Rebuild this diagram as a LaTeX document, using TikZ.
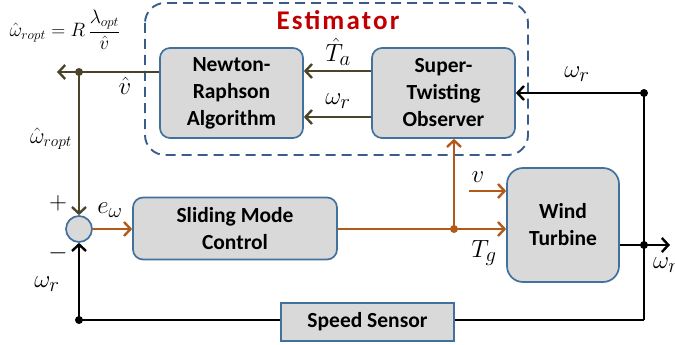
\documentclass[tikz,border=0pt]{standalone}
\usepackage{graphicx}
\usepackage{fontspec}
\setmainfont{Carlito}
\newfontfamily\estfont[LetterSpace=8]{Carlito}
\usetikzlibrary{arrows.meta,calc}
\definecolor{boxfill}{RGB}{217,217,217}
\definecolor{boxline}{RGB}{65,113,156}
\definecolor{dashline}{RGB}{56,93,138}
\definecolor{oliv}{RGB}{74,69,42}
\definecolor{orng}{RGB}{178,90,25}
\definecolor{estred}{RGB}{192,0,0}
\tikzset{
  blk/.style={draw=boxline, line width=1.7pt, fill=boxfill, rounded corners=10pt,
    align=center, font=\fontsize{21.5}{27}\selectfont\bfseries, inner sep=0pt},
  sq/.style={draw=boxline, line width=1.7pt, fill=boxfill,
    align=center, font=\fontsize{21.5}{27}\selectfont\bfseries, inner sep=0pt},
  arr/.style={line width=2.8pt, -{Straight Barb[length=6.5pt,width=14pt,line width=2.4pt]}},
  ln/.style={line width=2.8pt},
  dot/.style={circle, fill, inner sep=0pt, minimum size=8pt},
  lbl/.style={font=\fontsize{24.88}{30}\selectfont, inner sep=0pt},
}
\begin{document}
\begin{tikzpicture}[x=1pt,y=-1pt]
\useasboundingbox (0,0) rectangle (675,345);
% estimator region
\draw[dashline, line width=1.9pt, dash pattern=on 10pt off 6pt, rounded corners=20pt] (145,3) rectangle (528,155);
\node[text=estred, font=\fontsize{27}{30}\selectfont\bfseries\estfont] (est) at (338,20) {Estimator};
% blocks
\node[blk, minimum width=143pt, minimum height=90pt] (NR) at (231.5,93) {Newton-\\Raphson\\Algorithm};
\node[blk, minimum width=143pt, minimum height=90pt] (ST) at (443.5,93) {Super-\\Twisting\\Observer};
\node[blk, minimum width=204pt, minimum height=62pt] (SMC) at (235,228.5) {Sliding Mode\\Control};
\node[blk, rounded corners=16pt, minimum width=112pt, minimum height=114pt] (WT) at (563,225) {Wind\\Turbine};
\node[sq, minimum width=173pt, minimum height=38pt] (SS) at (367.5,322) {Speed Sensor};
\node[circle, draw=boxline, line width=1.7pt, fill=boxfill, minimum size=26pt, inner sep=0pt] (sum) at (79,229) {};
% coordinates
\coordinate (vout) at (57,72);
\node[dot, oliv] (vdot) at (79,72) {};
\node[dot, orng] (tgdot) at (454,229) {};
\coordinate (vin) at (469,191);
\node[dot] (wtop) at (644,93) {};
\node[dot] (wmid) at (644,245) {};
\coordinate (wbot) at (644,320);
\coordinate (wout) at (670,245);
\node[dot] (fbdot) at (79,320) {};
% olive connectors
\draw[arr, oliv] ([yshift=22pt]ST.west) -- ([yshift=22pt]NR.east);
\draw[arr, oliv] ([yshift=-24pt]ST.west) -- ([yshift=-24pt]NR.east);
\draw[arr, oliv] ([yshift=21pt]NR.west) -- (vout);
\draw[arr, oliv] (vdot.center) -- (sum.north);
% orange connectors
\draw[arr, orng] (sum.east) -- (SMC.west |- sum.east);
\draw[arr, orng] (SMC.east |- tgdot) -- (tgdot -| WT.west);
\draw[arr, orng] (tgdot.center) -- (tgdot |- ST.south);
\draw[arr, orng] (vin) -- (vin -| WT.west);
% black connectors
\draw[arr] (wtop.center) -- (ST.east |- wtop);
\draw[ln] (wtop.center) -- (wbot);
\draw[arr] (WT.east |- wmid) -- (wout);
\draw[ln] (wbot) -- (SS.east |- wbot);
\draw[ln] (SS.west |- fbdot) -- (fbdot.center);
\draw[arr] (fbdot.center) -- (sum.south);
% labels
\node[font=\fontsize{17.28}{21}\selectfont, inner sep=0pt] (formula) at (65,30) {\scalebox{1.12}{$\hat{\omega}_{ropt} = R\,{\displaystyle\frac{\lambda_{opt}}{\hat{v}}}$}};
\node[lbl] (lvhat) at (125,86) {$\hat{v}$};
\node[font=\fontsize{20.74}{26}\selectfont, inner sep=0pt] (lwropt) at (51,139) {\scalebox{1.08}{$\hat{\omega}_{ropt}$}};
\node[font=\fontsize{24.88}{26}\selectfont, inner sep=0pt] (lplus) at (58,203) {$+$};
\node[font=\fontsize{24.88}{26}\selectfont, inner sep=0pt] (lminus) at (58,253) {$-$};
\node[lbl] (lew) at (110,210) {$e_{\omega}$};
\node[lbl] (lta) at (338,52) {$\hat{T}_a$};
\node[lbl] (lwr1) at (338,101) {$\omega_r$};
\node[lbl] (lwr2) at (577,74) {$\omega_r$};
\node[lbl] (lv) at (478,177) {$v$};
\node[lbl] (ltg) at (484,253) {$T_g$};
\node[lbl, anchor=west] (lwr3) at (653,265) {$\omega_r$};
\node[lbl] (lwr4) at (47,284) {$\omega_r$};
\end{tikzpicture}
\end{document}
